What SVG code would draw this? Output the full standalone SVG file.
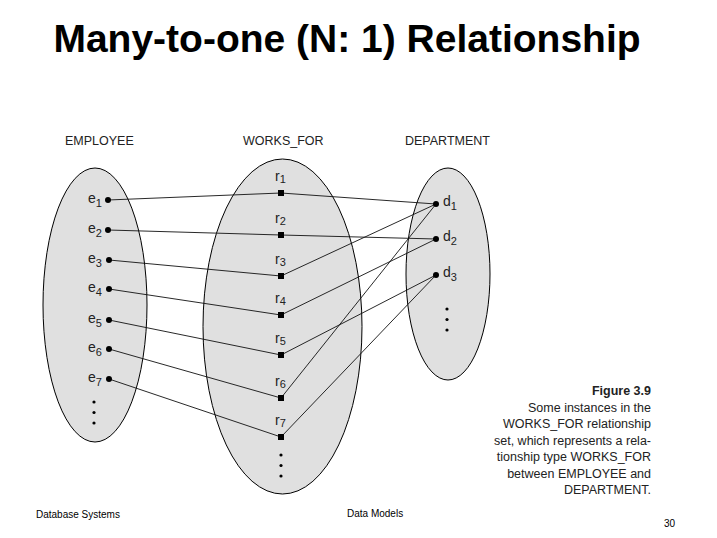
<svg xmlns="http://www.w3.org/2000/svg" width="717" height="538" viewBox="0 0 717 538">
<style>
.set{fill:#e0e0e0;stroke:#000;stroke-width:1}
.hdr{font-family:"Liberation Sans",Arial,sans-serif;font-size:12.5px;fill:#222}
.lbl{font-family:"Liberation Sans",Arial,sans-serif;font-size:14px;fill:#222}
.sub{font-size:11px}
.ln{stroke:#111;stroke-width:0.9;fill:none}
.cap{font-family:"Liberation Sans",Arial,sans-serif;font-size:12.5px;fill:#222;text-anchor:end}
.foot{font-family:"Liberation Sans",Arial,sans-serif;font-size:10px;fill:#000}
</style>
<rect width="717" height="538" fill="#fff"/>
<text x="347" y="52" text-anchor="middle" font-family="'Liberation Sans',Arial,sans-serif" font-size="39" font-weight="bold">Many-to-one (N: 1) Relationship</text>

<g id="EMPLOYEE">
<ellipse class="set" cx="95" cy="305" rx="52" ry="137"/>
<text class="hdr" x="65" y="145">EMPLOYEE</text>
</g>
<g id="WORKS_FOR">
<ellipse class="set" cx="282.5" cy="326.5" rx="79.5" ry="167.5"/>
<text class="hdr" x="243" y="145">WORKS_FOR</text>
</g>
<g id="DEPARTMENT">
<ellipse class="set" cx="448" cy="274" rx="42" ry="106"/>
<text class="hdr" x="405" y="145">DEPARTMENT</text>
</g>

<g id="connectors">
<polyline class="ln" points="108,200 281,193 436,204"/>
<polyline class="ln" points="108,230 281,235 436,239"/>
<polyline class="ln" points="109,260 281,276 436,204"/>
<polyline class="ln" points="109,289 281,315 436,239"/>
<polyline class="ln" points="109,320 281,355 436,275"/>
<polyline class="ln" points="109,349 281,398 436,204"/>
<polyline class="ln" points="109,379 281,437 436,275"/>
</g>

<g id="e1"><circle cx="108" cy="200" r="3"/><text class="lbl" x="88" y="203">e<tspan class="sub" dy="4">1</tspan></text></g>
<g id="e2"><circle cx="108" cy="230" r="3"/><text class="lbl" x="88" y="233">e<tspan class="sub" dy="4">2</tspan></text></g>
<g id="e3"><circle cx="109" cy="260" r="3"/><text class="lbl" x="88" y="263">e<tspan class="sub" dy="4">3</tspan></text></g>
<g id="e4"><circle cx="109" cy="289" r="3"/><text class="lbl" x="88" y="292">e<tspan class="sub" dy="4">4</tspan></text></g>
<g id="e5"><circle cx="109" cy="320" r="3"/><text class="lbl" x="88" y="323">e<tspan class="sub" dy="4">5</tspan></text></g>
<g id="e6"><circle cx="109" cy="349" r="3"/><text class="lbl" x="88" y="352">e<tspan class="sub" dy="4">6</tspan></text></g>
<g id="e7"><circle cx="109" cy="379" r="3"/><text class="lbl" x="88" y="382">e<tspan class="sub" dy="4">7</tspan></text></g>
<g id="e-more"><circle cx="94" cy="402" r="1.6"/><circle cx="94" cy="412.5" r="1.6"/><circle cx="94" cy="423" r="1.6"/></g>

<g id="r1"><rect x="278" y="190" width="6" height="6"/><text class="lbl" x="275" y="181">r<tspan class="sub" dy="2">1</tspan></text></g>
<g id="r2"><rect x="278" y="232" width="6" height="6"/><text class="lbl" x="275" y="223">r<tspan class="sub" dy="2">2</tspan></text></g>
<g id="r3"><rect x="278" y="273" width="6" height="6"/><text class="lbl" x="275" y="264">r<tspan class="sub" dy="2">3</tspan></text></g>
<g id="r4"><rect x="278" y="312" width="6" height="6"/><text class="lbl" x="275" y="303">r<tspan class="sub" dy="2">4</tspan></text></g>
<g id="r5"><rect x="278" y="352" width="6" height="6"/><text class="lbl" x="275" y="343">r<tspan class="sub" dy="2">5</tspan></text></g>
<g id="r6"><rect x="278" y="395" width="6" height="6"/><text class="lbl" x="275" y="386">r<tspan class="sub" dy="2">6</tspan></text></g>
<g id="r7"><rect x="278" y="434" width="6" height="6"/><text class="lbl" x="275" y="425">r<tspan class="sub" dy="2">7</tspan></text></g>
<g id="r-more"><circle cx="281" cy="455" r="1.6"/><circle cx="281" cy="465.5" r="1.6"/><circle cx="281" cy="476" r="1.6"/></g>

<g id="d1"><circle cx="436" cy="204" r="3"/><text class="lbl" x="443" y="206">d<tspan class="sub" dy="4">1</tspan></text></g>
<g id="d2"><circle cx="436" cy="239" r="3"/><text class="lbl" x="443" y="241">d<tspan class="sub" dy="4">2</tspan></text></g>
<g id="d3"><circle cx="436" cy="275" r="3"/><text class="lbl" x="443" y="277">d<tspan class="sub" dy="4">3</tspan></text></g>
<g id="d-more"><circle cx="447" cy="309" r="1.6"/><circle cx="447" cy="319.5" r="1.6"/><circle cx="447" cy="330" r="1.6"/></g>

<g id="caption">
<text class="cap" x="651" y="395" font-weight="bold" font-size="13">Figure 3.9</text>
<text class="cap" x="651" y="411.5">Some instances in the</text>
<text class="cap" x="651" y="428">WORKS_FOR relationship</text>
<text class="cap" x="651" y="444.5">set, which represents a rela-</text>
<text class="cap" x="651" y="461">tionship type WORKS_FOR</text>
<text class="cap" x="651" y="477.5">between EMPLOYEE and</text>
<text class="cap" x="651" y="494">DEPARTMENT.</text>
</g>

<text class="foot" x="36" y="518">Database Systems</text>
<text class="foot" x="347" y="517">Data Models</text>
<text class="foot" x="664" y="527">30</text>
</svg>
